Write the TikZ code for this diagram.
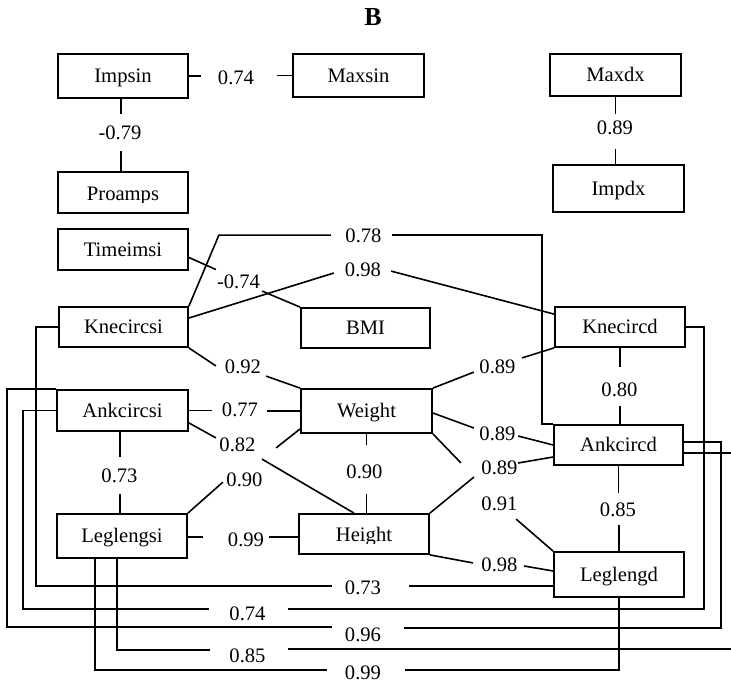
\documentclass[tikz,border=0pt]{standalone}
\usepackage{fontspec}
\setmainfont{Liberation Serif}
\usetikzlibrary{calc}
\begin{document}
\begin{tikzpicture}[x=1pt,y=-1pt,
  box/.style={draw, line width=1.8pt, inner sep=0pt, minimum width=130pt, minimum height=42pt,
    text height=13.6pt, text depth=0pt, font=\fontsize{20.6}{23}\selectfont},
  lbl/.style={inner sep=0pt, font=\fontsize{20.6}{23}\selectfont},
  conn/.style={line width=1.6pt}]
\fill[white] (0,0) rectangle (731,683);
\useasboundingbox (0,0) rectangle (731,683);

\node[font=\fontsize{26}{30}\selectfont\bfseries, inner sep=0pt] (title) at (373,17.5) {B};

% boxes
\node[box, minimum height=44pt] (impsin) at (123,76) {Impsin};
\node[box, minimum width=131pt, minimum height=43pt] (maxsin) at (358.5,75.5) {Maxsin};
\node[box, minimum width=131pt] (maxdx) at (615.5,75) {Maxdx};
\node[box, minimum width=131pt, minimum height=47pt] (impdx) at (618.5,188.5) {Impdx};
\node[box, minimum height=41pt, path picture={
   \clip ([yshift=11pt]path picture bounding box.south west) rectangle (path picture bounding box.north east);
   \node[lbl, anchor=base] (proampstext) at ([yshift=12.3pt]path picture bounding box.south) {Proamps};}]
   (proamps) at (123,192.5) {};
\node[box, minimum height=41pt] (timeimsi) at (123,249.5) {Timeimsi};
\node[box, minimum width=129pt, minimum height=40pt] (knecircsi) at (123.5,327) {Knecircsi};
\node[box, minimum width=129pt, minimum height=40pt] (bmi) at (365.5,328) {BMI};
\node[box, minimum height=40pt] (knecircd) at (620,327) {Knecircd};
\node[box, minimum width=131pt, minimum height=41pt] (ankcircsi) at (122.5,410.5) {Ankcircsi};
\node[box, minimum width=131pt, minimum height=44pt] (weight) at (366.5,411) {Weight};
\node[box, minimum width=129pt, minimum height=40pt] (ankcircd) at (618.5,445) {Ankcircd};
\node[box, minimum height=44pt] (leglengsi) at (122,536) {Leglengsi};
\node[box, minimum height=40pt, path picture={
   \clip ([yshift=10.8pt]path picture bounding box.south west) rectangle (path picture bounding box.north east);
   \node[lbl, anchor=base] (heighttext) at ([yshift=12.5pt]path picture bounding box.south) {Height};}]
   (height) at (364,534) {};
\node[box, minimum height=45pt] (leglengd) at (619,574.5) {Leglengd};

% labels
\node[lbl] (l1) at (236,77.5) {0.74};
\node[lbl] (l2) at (120,132.5) {-0.79};
\node[lbl] (l3) at (615,128) {0.89};
\node[lbl] (l4) at (363.5,235.5) {0.78};
\node[lbl] (l5) at (363,270) {0.98};
\node[lbl] (l6) at (238.5,281.5) {-0.74};
\node[lbl] (l7) at (243,366.5) {0.92};
\node[lbl] (l8) at (240,410) {0.77};
\node[lbl] (l9) at (237.5,444.5) {0.82};
\node[lbl] (l10) at (119.5,475.5) {0.73};
\node[lbl] (l11) at (244.5,479.5) {0.90};
\node[lbl] (l12) at (246,539.5) {0.99};
\node[lbl] (l13) at (363,587.5) {0.73};
\node[lbl] (l14) at (247.5,613.5) {0.74};
\node[lbl] (l15) at (363,634.5) {0.96};
\node[lbl] (l16) at (247.5,655.5) {0.85};
\node[lbl] (l17) at (363,673) {0.99};
\node[lbl] (l18) at (364.5,472) {0.90};
\node[lbl] (l19) at (497.5,367) {0.89};
\node[lbl] (l20) at (497.5,434) {0.89};
\node[lbl] (l21) at (499.5,468) {0.89};
\node[lbl] (l22) at (499.5,504) {0.91};
\node[lbl] (l23) at (499.5,565) {0.98};
\node[lbl] (l24) at (619.5,390) {0.80};
\node[lbl] (l25) at (618,510) {0.85};

% connectors
\draw[conn] (impsin.east) -- ++(12,0);
\draw[conn] (maxsin.west) -- ++(-15,0);
\draw[conn] ($(impsin.south)+(-2,0)$) -- ++(0,15);
\draw[conn] ($(proamps.north)+(-2,0)$) -- ++(0,-20);
\draw[conn] (maxdx.south) -- ++(0,17);
\draw[conn] (maxdx.south |- impdx.north) -- ++(0,-15);
\draw[conn] ($(timeimsi.east)+(0,8)$) -- ++(27,12);
\draw[conn] (bmi.north west) -- ++(-38,-16);
\draw[conn] (knecircsi.north east) -- ++(30,-71) -- ++(112,0);
\draw[conn] (ankcircd.north west) -- ++(-11,0) -- ++(0,-189) -- ++(-150,0);
\draw[conn] ($(knecircsi.east)+(0,-9)$) -- ++(145,-45);
\draw[conn] ($(knecircd.north west)+(0,8)$) -- ++(-163,-43);
\draw[conn] (knecircsi.west) -- ++(-22,0) -- ++(0,259) -- ++(296,0);
\draw[conn] ($(leglengd.west)+(0,11.5)$) -- ++(-144,0);
\draw[conn] (ankcircsi.west) -- ++(-33,0) -- ++(0,198.5) -- ++(186,0);
\draw[conn] (knecircd.east) -- ++(18,0) -- ++(0,282) -- ++(-416,0);
\draw[conn] (ankcircsi.north west) -- ++(-49,0) -- ++(0,238) -- ++(325,0);
\draw[conn] ($(ankcircd.east)+(0,-3)$) -- ++(37,0) -- ++(0,186) -- ++(-317,0);
\draw[conn] ($(leglengsi.south)+(-5,0)$) -- ++(0,91) -- ++(93,0);
\draw[conn] ($(ankcircd.east)+(0,8)$) -- ++(52,0) -- ++(0,196) -- ++(-448,0);
\draw[conn] ($(leglengsi.south)+(-27,0)$) -- ++(0,111) -- ++(232,0);
\draw[conn] (leglengd.south) -- ++(0,72) -- ++(-214,0);
\draw[conn] ($(ankcircsi.south)+(-2.5,0)$) -- ++(0,25);
\draw[conn] ($(leglengsi.north)+(-2,0)$) -- ++(0,-19);
\draw[conn] (ankcircsi.east) -- ++(23,0);
\draw[conn] (weight.west) -- ++(-33,0);
\draw[conn] (knecircsi.south east) -- ++(27,18);
\draw[conn] (weight.north west) -- ++(-34,-12);
\draw[conn] ($(ankcircsi.south east)+(0,-9)$) -- ++(27,15);
\draw[conn] ($(height.north)+(-10,0)$) -- ++(-92,-54);
\draw[conn] (leglengsi.north east) -- ++(35,-31);
\draw[conn] ($(weight.south west)+(0,-5)$) -- ++(-24,19);
\draw[conn] ($(leglengsi.east)+(0,1)$) -- ++(15,0);
\draw[conn] ($(height.west)+(0,3)$) -- ++(-29,0);
\draw[conn] (weight.south) -- ++(0,11);
\draw[conn] (weight.south |- height.north) -- ++(0,-19);
\draw[conn] (weight.north east) -- ++(41,-16);
\draw[conn] (knecircd.south west) -- ++(-32,10);
\draw[conn] ($(weight.east)+(0,2)$) -- ++(41,15);
\draw[conn] (ankcircd.west) -- ++(-35,-9);
\draw[conn] (weight.south east) -- ++(28,29);
\draw[conn] (leglengd.north west) -- ++(-37,-32);
\draw[conn] (height.north east) -- ++(44,-36);
\draw[conn] ($(ankcircd.west)+(0,12)$) -- ++(-35,6);
\draw[conn] (height.south east) -- ++(43,8);
\draw[conn] ($(leglengd.west)+(0,-3.5)$) -- ++(-29,-5);
\draw[conn] (knecircd.south) -- ++(0,19);
\draw[conn] (knecircd.south |- ankcircd.north) -- ++(0,-18);
\draw[conn] (ankcircd.south) -- ++(0,27);
\draw[conn] (leglengd.north) -- ++(0,-26);
\end{tikzpicture}
\end{document}
